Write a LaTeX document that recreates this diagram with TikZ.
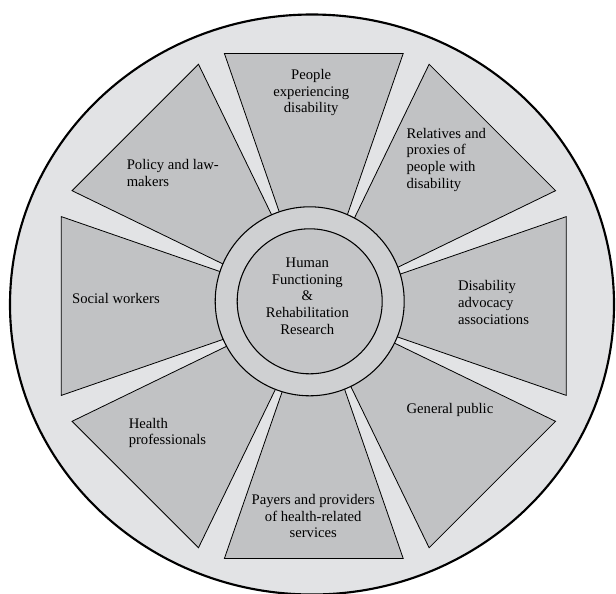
\documentclass[tikz,border=0pt]{standalone}
\usepackage{fontspec}
\setmainfont{Liberation Serif}

\definecolor{rimgray}{RGB}{226,227,229}
\definecolor{sectorgray}{RGB}{193,194,196}
\definecolor{ringgray}{RGB}{207,208,210}
\definecolor{hubgray}{RGB}{196,197,199}

\begin{document}
\begin{tikzpicture}[x=0.75pt,y=-0.75pt,
  sector/.style={fill=sectorgray,draw=black,line width=0.6pt},
  stakeholder/.style={font=\fontsize{11}{12.5}\selectfont,align=left,anchor=west,inner sep=0pt}]
\useasboundingbox (0,0) rectangle (616,593);

% outer rim
\filldraw[fill=rimgray,line width=1.6pt] (312,304.5) ellipse [x radius=302,y radius=290];

% eight wedges, one per stakeholder group
\foreach \a in {0,45,...,315}
  \filldraw[sector,rotate around={\a:(313.8,306)}] (224.4,53.5) -- (403.2,53.5) -- (313.8,311.7) -- cycle;

% hub
\filldraw[fill=ringgray,line width=0.8pt] (309.7,301.3) circle [radius=94.5];
\filldraw[fill=hubgray,line width=0.8pt] (309.7,301.3) circle [radius=72.5];
\node[stakeholder,align=center,anchor=center] (hub) at (307.3,296) {Human\\Functioning\\\&\\Rehabilitation\\Research};

\node[stakeholder,align=center,anchor=center] (people) at (311.2,92.7) {People\\experiencing\\disability};
\node[stakeholder] (relatives) at (406.3,159.8) {Relatives and\\proxies of\\people with\\disability};
\node[stakeholder] (advocacy) at (457.8,302.6) {Disability\\advocacy\\associations};
\node[stakeholder] (public) at (406.3,410.4) {General public};
\node[stakeholder,align=center,anchor=center] (payers) at (313.2,516.3) {Payers and providers\\of health-related\\services};
\node[stakeholder] (health) at (128.5,432.9) {Health\\professionals};
\node[stakeholder] (social) at (71.9,298.8) {Social workers};
\node[stakeholder] (policy) at (126.5,173) {Policy and law-\\makers};
\end{tikzpicture}
\end{document}
